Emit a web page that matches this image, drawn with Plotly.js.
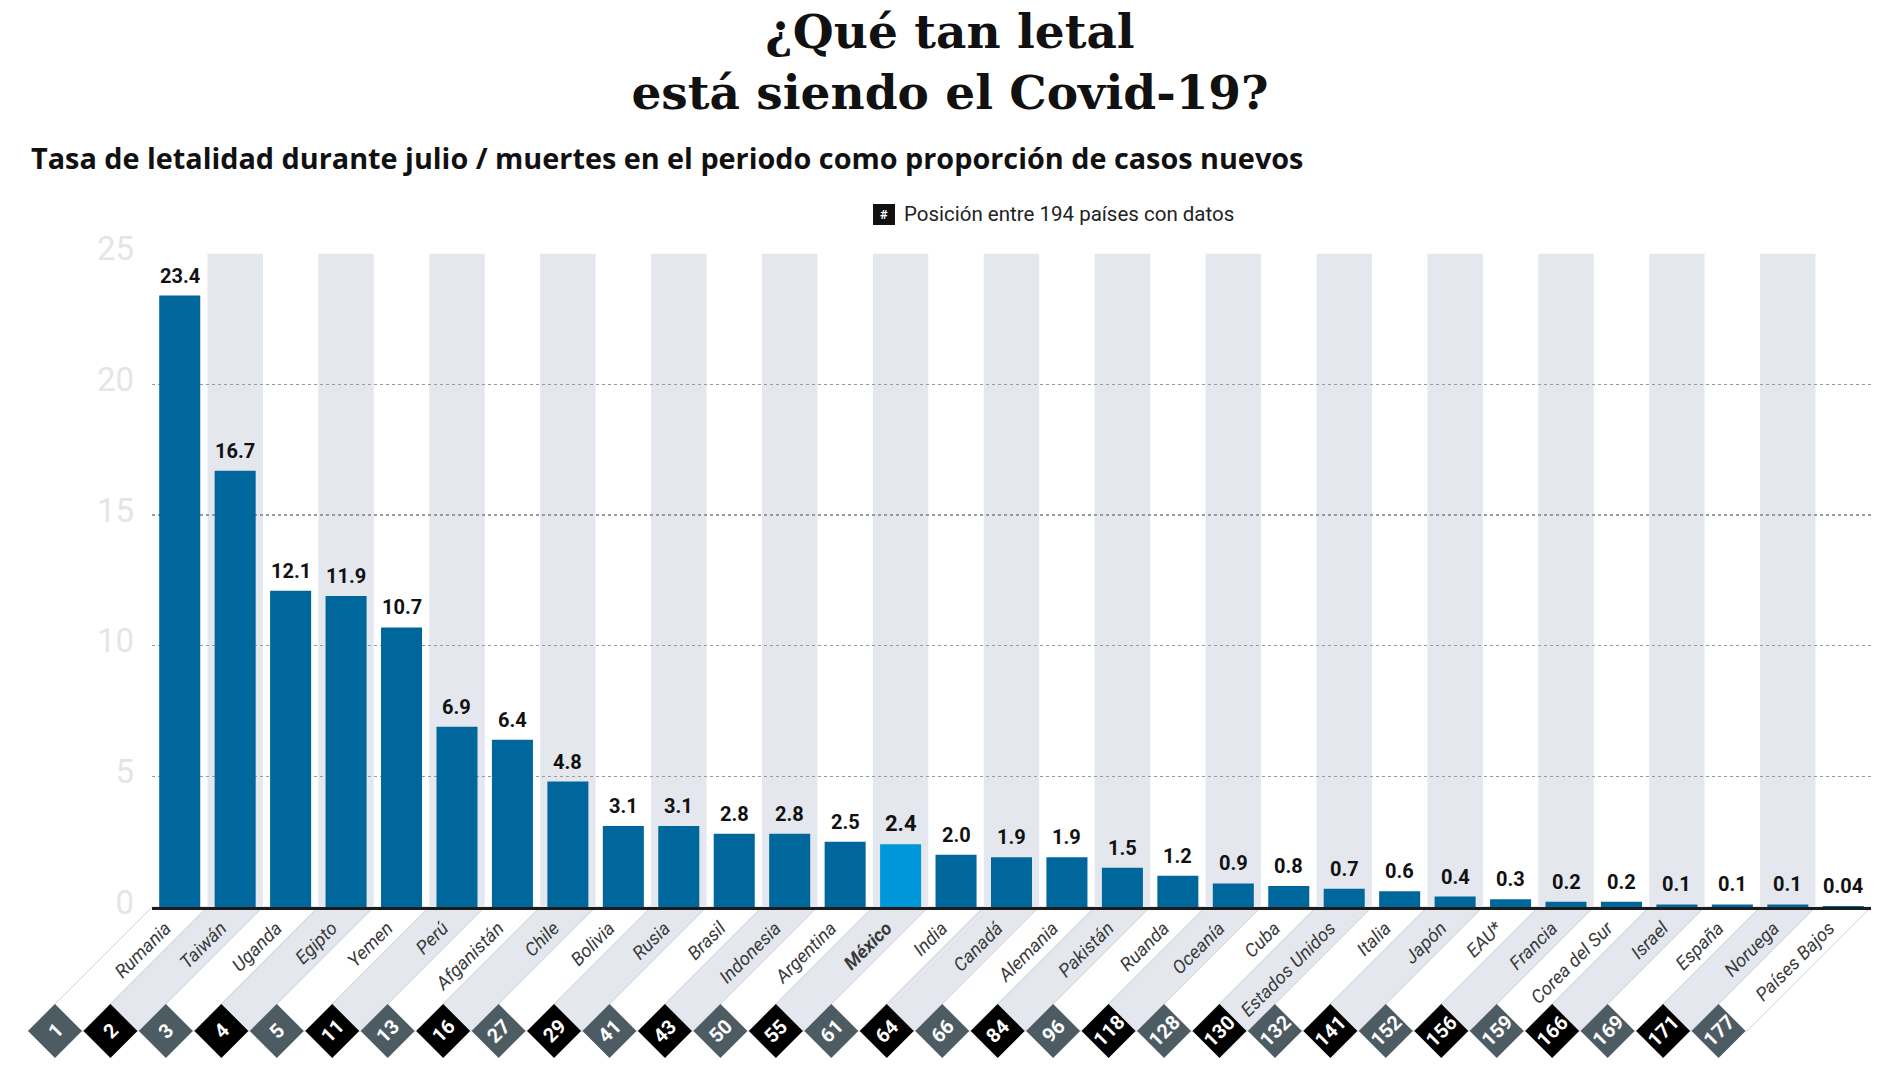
<!DOCTYPE html>
<html>
<head>
<meta charset="utf-8">
<script src="https://cdn.plot.ly/plotly-3.0.1.min.js"></script>
<style>html,body{margin:0;padding:0;background:#fff;}</style>
</head>
<body>
<div id="chart" style="width:1900px;height:1068px;"></div>
<script>
// ---- data ----
const countries = ['Rumania','Taiwán','Uganda','Egipto','Yemen','Perú','Afganistán','Chile','Bolivia','Rusia','Brasil','Indonesia','Argentina','México','India','Canadá','Alemania','Pakistán','Ruanda','Oceanía','Cuba','Estados Unidos','Italia','Japón','EAU*','Francia','Corea del Sur','Israel','España','Noruega','Países Bajos'];
const rates = [23.4,16.7,12.1,11.9,10.7,6.9,6.4,4.8,3.1,3.1,2.8,2.8,2.5,2.4,2.0,1.9,1.9,1.5,1.2,0.9,0.8,0.7,0.6,0.4,0.3,0.2,0.2,0.1,0.1,0.1,0.04];
const ranks = [1,2,3,4,5,11,13,16,27,29,41,43,50,55,61,64,66,84,96,118,128,130,132,141,152,156,159,166,169,171,177];
const highlight = 'México';
const yTicks = [0,5,10,15,20,25];
const titleText = '¿Qué tan letal<br>está siendo el Covid-19?';
const subtitleText = 'Tasa de letalidad durante julio / muertes en el periodo como proporción de casos nuevos';
const legendText = 'Posición entre 194 países con datos';

// ---- styles ----
const BAR = '#00679d', BAR_HI = '#0096da', STRIPE = '#e4e8ee';
const BADGE_A = '#4d5b63', BADGE_B = '#000000';
const M = {l:152, r:29, t:253, b:161};
const W = 1900 - M.l - M.r, H = 1068 - M.t - M.b;
const px2x = p => (p - M.l) / W;
const px2y = p => (M.t + H - p) / H;

const fmt = v => v < 0.1 ? String(v) : v.toFixed(1);

const stripes = [];
countries.forEach((c, i) => {
  if (i % 2 === 1) stripes.push({type:'rect', xref:'x', yref:'y', x0:i-0.5, x1:i+0.5, y0:0, y1:25,
    fillcolor:STRIPE, line:{width:0}, layer:'below'});
});

const valueAnns = countries.map((c, i) => ({
  x:c, y:rates[i], xref:'x', yref:'y', text: c===highlight ? '<b>'+fmt(rates[i])+'</b>' : fmt(rates[i]),
  showarrow:false, yanchor:'bottom', xanchor:'center', yshift:6,
  font:{family:'Roboto', size: c===highlight ? 22 : 20, color:'#111', weight: c===highlight ? 900 : 700}
}));

const textAnns = [
  {xref:'paper', yref:'paper', x:px2x(29), y:px2y(157), xanchor:'left', yanchor:'middle', showarrow:false,
   text:subtitleText, font:{family:'Open Sans', size:28.8, color:'#111', weight:700}},
  {xref:'paper', yref:'paper', x:px2x(884), y:px2y(214.5), xanchor:'center', yanchor:'middle', showarrow:false,
   text:'#', font:{family:'Roboto', size:13, color:'#fff', weight:700}},
  {xref:'paper', yref:'paper', x:px2x(902), y:px2y(214), xanchor:'left', yanchor:'middle', showarrow:false,
   text:legendText, font:{family:'Roboto', size:20.5, color:'#222'}}
];

const legendShape = {type:'rect', xref:'paper', yref:'paper', x0:px2x(873), x1:px2x(895), y0:px2y(225), y1:px2y(204),
  fillcolor:'#111', line:{width:0}, layer:'above'};

const trace = {
  type:'bar', x:countries, y:rates,
  marker:{color: countries.map(c => c===highlight ? BAR_HI : BAR), line:{width:0}},
  hoverinfo:'x+y'
};

const layout = {
  width:1900, height:1068, margin:M,
  paper_bgcolor:'#ffffff', plot_bgcolor:'rgba(0,0,0,0)',
  showlegend:false, bargap:0.26,
  title:{text:titleText, font:{family:'DejaVu Serif', size:47, color:'#111', weight:700},
    x:0.5, xanchor:'center', xref:'container', y:1-48/1068, yanchor:'middle', yref:'container'},
  xaxis:{type:'category', range:[-0.5,30.5], tickangle:-45,
    tickvals:countries, ticktext:countries.map(c => c===highlight ? '<b>'+c+'</b>' : c),
    tickfont:{family:'Roboto', size:18.5, color:'#3a3a3a', style:'italic'}, ticklabelshift:-14,
    showline:true, linecolor:'#1c1c1c', linewidth:3, showgrid:false, ticks:'', fixedrange:true},
  yaxis:{range:[0,25.03], tickvals:yTicks, ticktext:yTicks.map(String),
    tickfont:{family:'Roboto', size:33, color:'#e2e6ea'},
    showgrid:true, gridcolor:'#9a9a9a', griddash:'dot', gridwidth:1.5,
    zeroline:false, showline:false, ticks:'', ticklabelstandoff:17, ticklabelshift:-5, fixedrange:true},
  shapes: stripes.concat([legendShape]),
  annotations: valueAnns.concat(textAnns)
};

const gd = document.getElementById('chart');
Plotly.newPlot(gd, [trace], layout, {displayModeBar:false, staticPlot:true}).then(() => {
  const xa = gd._fullLayout.xaxis, ya = gd._fullLayout.yaxis;
  const base = ya._offset + ya.l2p(0);
  const hw = xa._length / countries.length / 2;
  const badgeY = base + 124, half = 27;
  const drop = badgeY - base;
  const shapes = layout.shapes.slice();
  const anns = layout.annotations.slice();
  countries.forEach((c, i) => {
    const cx = xa._offset + xa.l2p(i);
    const pts = [[cx-hw, base],[cx+hw, base],[cx+hw-drop, badgeY],[cx-hw-drop, badgeY]];
    shapes.push({type:'path', xref:'paper', yref:'paper', layer:'below',
      path:'M'+pts.map(p => px2x(p[0])+','+px2y(p[1])).join(' L')+' Z',
      fillcolor: i%2===1 ? STRIPE : '#ffffff', line:{color:'#cdd3d8', width:1}});
  });
  countries.forEach((c, i) => {
    const cx = xa._offset + xa.l2p(i);
    const bx = cx - hw - (drop - half);
    const d = [[bx, badgeY-half],[bx+half, badgeY],[bx, badgeY+half],[bx-half, badgeY]];
    shapes.push({type:'path', xref:'paper', yref:'paper', layer:'below',
      path:'M'+d.map(p => px2x(p[0])+','+px2y(p[1])).join(' L')+' Z',
      fillcolor: i%2===0 ? BADGE_A : BADGE_B, line:{width:0}});
    anns.push({xref:'paper', yref:'paper', x:px2x(bx), y:px2y(badgeY), xanchor:'center', yanchor:'middle',
      showarrow:false, text:'<b>'+ranks[i]+'</b>', textangle:-45,
      font:{family:'Roboto', size:20, color:'#ffffff', weight:700}});
  });
  const layout2 = Object.assign({}, layout, {shapes:shapes, annotations:anns});
  return Plotly.react(gd, [trace], layout2, {displayModeBar:false, staticPlot:true});
});
</script>
</body>
</html>
